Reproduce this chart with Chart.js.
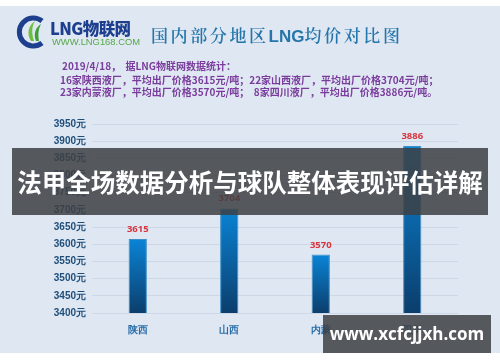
<!DOCTYPE html>
<html>
<head>
<meta charset="utf-8">
<script src="https://cdn.jsdelivr.net/npm/chart.js"></script>
<style>
  html, body { margin: 0; padding: 0; }
  body { width: 500px; height: 362px; position: relative; overflow: hidden; background: #fff;
         font-family: "Noto Sans CJK SC", "Noto Sans", sans-serif; }
  #panel { position: absolute; left: 0; top: 6px; width: 500px; height: 347px; background: #dfe7f3; }
  #price-chart { position: absolute; left: 0; top: 0; }
  .abs { position: absolute; white-space: nowrap; }
  #title { left: 151px; top: 24px; font-size: 17px; line-height: 22px; color: #2576aa; letter-spacing: 2.6px; font-weight: 600;
           font-family: "Noto Serif CJK SC", "Noto Sans CJK SC", serif; }
  #title b { font-family: "Liberation Sans Narrow", "Liberation Sans", sans-serif; font-weight: 700; letter-spacing: 0; }
  .info { color: #7a3c9c; font-size: 10px; font-weight: 700; }
  #band { left: 12px; top: 148px; width: 476px; height: 67px; background: rgba(62,64,68,0.86);
          color: #fff; font-size: 24.5px; font-weight: 700; line-height: 67px; text-align: center; }
  #mark { left: 323px; top: 315px; width: 168px; height: 38px; background: rgba(62,64,68,0.86);
          color: #fff; font-size: 17px; font-weight: 700; line-height: 38px; text-align: center;
          font-family: "Open Sans", "DejaVu Sans", sans-serif; }
  #logo-txt { left: 50px; top: 16px; color: #1d3f8e; font-size: 16.5px; font-weight: 900; letter-spacing: -0.6px; }
  #logo-url { left: 52px; top: 36px; color: #55a845; font-size: 9.4px; font-family: "Liberation Sans", sans-serif; }
</style>
</head>
<body>
<div id="panel"></div>
<canvas id="price-chart" width="500" height="362"></canvas>

<svg class="abs" style="left:16px;top:15px" width="34" height="34" viewBox="0 0 34 34">
  <path d="M26 6 A14 14 0 1 0 26 28" fill="none" stroke="#1d3f8e" stroke-width="5"/>
  <path d="M15 26 C10 18 13 10 19 6 C15 13 16 19 18 26 Z" fill="#6cbf3f"/>
  <path d="M20 26 C17 19 20 12 25 9 C22 15 22 20 23 26 Z" fill="#3f9e3a"/>
</svg>
<div class="abs" id="logo-txt">LNG物联网</div>
<div class="abs" id="logo-url">WWW.LNG168.COM</div>
<div class="abs" id="title">国内部分地区<b>LNG</b>均价对比图</div>
<div class="abs info" style="left:62px;top:58px">2019/4/18，&nbsp;&nbsp;据LNG物联网数据统计：</div>
<div class="abs info" style="left:60px;top:72px">16家陕西液厂，平均出厂价格3615元/吨；22家山西液厂，平均出厂价格3704元/吨；</div>
<div class="abs info" style="left:60px;top:84px">23家内蒙液厂，平均出厂价格3570元/吨；&nbsp;&nbsp;8家四川液厂，平均出厂价格3886元/吨。</div>

<div class="abs" id="band">法甲全场数据分析与球队整体表现评估详解</div>
<div class="abs" id="mark">www.xcfcjjxh.com</div>

<script>
var regions = ['陕西', '山西', '内蒙', '四川'];
var avgPrices = [3615, 3704, 3570, 3886];
var yMin = 3400;
var yMax = 3950;
var yStep = 50;

// red numbers above each bar
var valueLabels = {
    id: 'valueLabels',
    afterDatasetsDraw: function(chart) {
        var ctx = chart.ctx;
        var meta = chart.getDatasetMeta(0);
        ctx.save();
        ctx.fillStyle = '#d8343c';
        ctx.font = 'bold 9.5px "Noto Sans", sans-serif';
        ctx.textAlign = 'center';
        ctx.textBaseline = 'bottom';
        meta.data.forEach(function(bar, i) {
            ctx.fillText(avgPrices[i], bar.x, bar.y - 5);
        });
        ctx.restore();
    }
};

var ctx = document.getElementById('price-chart').getContext('2d');
var priceChart = new Chart(ctx, {
    type: 'bar',
    data: {
        labels: regions,
        datasets: [{
            data: avgPrices,
            backgroundColor: function(c) {
                var chart = c.chart;
                if (!chart.chartArea) return '#0a6fc0';
                var top = chart.scales.y.getPixelForValue(c.raw);
                var g = chart.ctx.createLinearGradient(0, top, 0, chart.chartArea.bottom);
                g.addColorStop(0, '#0a84d6');
                g.addColorStop(1, '#0b3e6c');
                return g;
            },
            borderColor: '#3d8fc8',
            borderWidth: { top: 1, left: 1, right: 1, bottom: 0 },
            categoryPercentage: 1,
            barPercentage: 0.2
        }]
    },
    options: {
        responsive: false,
        animation: false,
        layout: { padding: { top: 124, right: 42, left: 0, bottom: 0 } },
        plugins: { legend: { display: false }, tooltip: { enabled: false } },
        scales: {
            x: {
                grid: { display: false },
                border: { display: false },
                ticks: { color: '#2a6ea8', font: { size: 9.5, weight: 'bold' }, padding: 4 },
                afterFit: function(scale) { scale.height = 49; }
            },
            y: {
                min: yMin,
                max: yMax,
                grid: { color: '#cdd7e6', drawTicks: false },
                border: { display: false },
                ticks: {
                    stepSize: yStep,
                    color: '#1f4e79',
                    font: { size: 10, weight: 'bold' },
                    padding: 6,
                    callback: function(v) { return v + '元'; }
                },
                afterFit: function(scale) { scale.width = 92; }
            }
        }
    },
    plugins: [valueLabels]
});
</script>
</body>
</html>
